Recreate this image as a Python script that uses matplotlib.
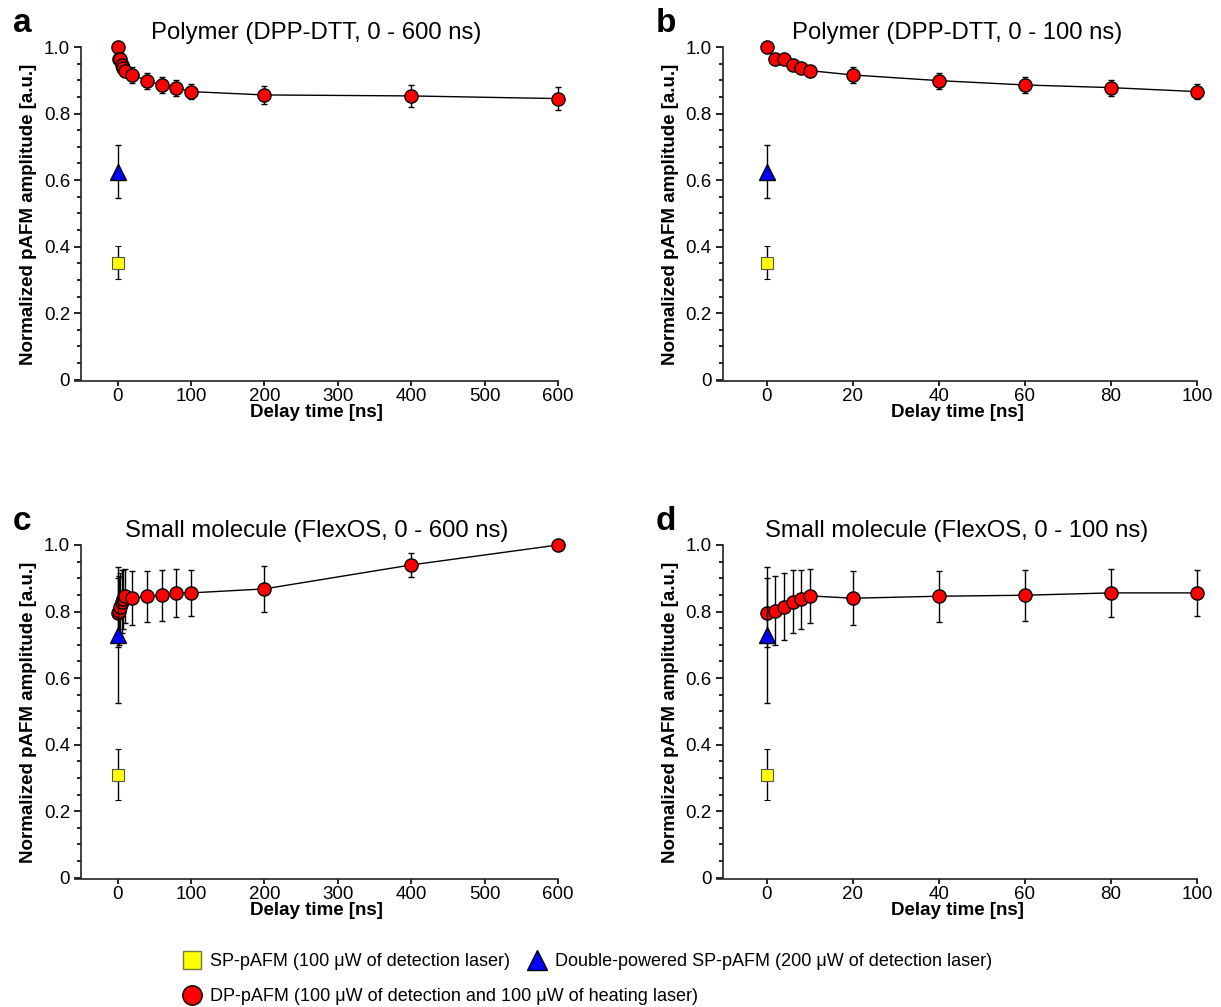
import numpy as np
import matplotlib
matplotlib.use("Agg")
import matplotlib.pyplot as plt
from matplotlib.lines import Line2D
from matplotlib.ticker import MultipleLocator, FuncFormatter

plt.rcParams['font.family'] = ['Liberation Sans', 'DejaVu Sans']

# delay times of the DP-pAFM measurements [ns]
delay = [0, 2, 4, 6, 8, 10, 20, 40, 60, 80, 100, 200, 400, 600]

# polymer (DPP-DTT)
poly_dp = [1.0, 0.965, 0.965, 0.945, 0.937, 0.929, 0.916, 0.899, 0.886, 0.878, 0.866, 0.856, 0.853, 0.845]
poly_dp_err = [0.004, 0.008, 0.008, 0.012, 0.01, 0.01, 0.023, 0.024, 0.024, 0.024, 0.022, 0.027, 0.033, 0.035]
poly_sp, poly_sp_err = 0.352, 0.049
poly_sp2, poly_sp2_err = 0.625, 0.08

# small molecule (FlexOS)
small_dp = [0.797, 0.803, 0.815, 0.830, 0.837, 0.847, 0.840, 0.846, 0.849, 0.856, 0.856, 0.868, 0.940, 1.0]
small_dp_err = [0.105, 0.104, 0.1, 0.094, 0.089, 0.082, 0.082, 0.077, 0.077, 0.072, 0.07, 0.068, 0.035, 0.0]
small_sp, small_sp_err = 0.31, 0.078
small_sp2, small_sp2_err = 0.73, 0.205

panels = [
    ('a', 'Polymer (DPP-DTT, 0 - 600 ns)', poly_dp, poly_dp_err, poly_sp, poly_sp_err, poly_sp2, poly_sp2_err, 600),
    ('b', 'Polymer (DPP-DTT, 0 - 100 ns)', poly_dp, poly_dp_err, poly_sp, poly_sp_err, poly_sp2, poly_sp2_err, 100),
    ('c', 'Small molecule (FlexOS, 0 - 600 ns)', small_dp, small_dp_err, small_sp, small_sp_err, small_sp2, small_sp2_err, 600),
    ('d', 'Small molecule (FlexOS, 0 - 100 ns)', small_dp, small_dp_err, small_sp, small_sp_err, small_sp2, small_sp2_err, 100),
]

fig = plt.figure(figsize=(12.21, 10.07), dpi=100)
rects = [
    [0.0614, 0.6216, 0.3956, 0.3317],
    [0.5872, 0.6216, 0.3931, 0.3317],
    [0.0614, 0.1271, 0.3956, 0.3317],
    [0.5872, 0.1271, 0.3931, 0.3317],
]

for rect, (letter, title, dp, dp_err, sp, sp_err, sp2, sp2_err, xmax) in zip(rects, panels):
    ax = fig.add_axes(rect)
    x = np.array(delay)
    keep = x <= xmax
    xd = x[keep]
    yd = np.array(dp)[keep]
    ed = np.array(dp_err)[keep]

    ax.errorbar([0], [sp], yerr=[sp_err], fmt='s', ms=8, mfc='#ffff00', mec='#555555',
                mew=0.8, ecolor='black', elinewidth=1, capsize=2.5, capthick=1, zorder=3, clip_on=False)
    ax.errorbar(xd, yd, yerr=ed, fmt='o-', ms=9.5, mfc='#ff0000', mec='black', mew=1,
                color='black', lw=1, ecolor='black', elinewidth=1, capsize=2.5, capthick=1,
                zorder=4, clip_on=False)
    ax.errorbar([0], [sp2], yerr=[sp2_err], fmt='^', ms=12, mfc='#0000ff', mec='black',
                mew=1, ecolor='black', elinewidth=1, capsize=2.5, capthick=1, zorder=5, clip_on=False)

    if xmax == 600:
        ax.set_xlim(-58, 600)
        ax.set_xticks(range(0, 601, 100))
        ax.spines['left'].set_position(('axes', 0.013))
    else:
        ax.set_xlim(-11.6, 100)
        ax.set_xticks(range(0, 101, 20))
        ax.spines['left'].set_position(('axes', 0.0125))
    ax.set_ylim(-0.004, 1.0)
    ax.spines['left'].set_bounds(0, 1.0)
    ax.set_yticks([0, 0.2, 0.4, 0.6, 0.8, 1.0])
    ax.yaxis.set_minor_locator(MultipleLocator(0.05))
    ax.yaxis.set_major_formatter(FuncFormatter(lambda v, p: '0' if abs(v) < 1e-9 else f'{v:.1f}'))
    ax.spines['top'].set_visible(False)
    ax.spines['right'].set_visible(False)
    for s in ('left', 'bottom'):
        ax.spines[s].set_linewidth(1.2)
        ax.spines[s].set_color('#222222')
    ax.tick_params(axis='y', which='major', direction='out', length=5, width=1.2,
                   labelsize=13.5, pad=3)
    ax.tick_params(axis='y', which='minor', direction='out', length=3, width=1.2)
    ax.tick_params(axis='x', which='major', direction='out', length=3.5, width=1.2,
                   labelsize=13.5, pad=1.5)

    ax.set_xlabel('Delay time [ns]', fontsize=13.5, fontweight='bold', labelpad=-1)
    ax.set_ylabel('Normalized pAFM amplitude [a.u.]', fontsize=13.5, fontweight='bold', labelpad=5)
    ax.set_title(title, fontsize=17.2, pad=6)
    ax.text(-0.128, 1.118, letter, transform=ax.transAxes, fontsize=24, fontweight='bold',
            va='top', ha='left')

# legend: two rows, not aligned as a grid
h_sp = Line2D([], [], ls='none', marker='s', ms=13.5, mfc='#ffff00', mec='#777744', mew=1)
h_dp = Line2D([], [], ls='none', marker='o', ms=14, mfc='#ff0000', mec='black', mew=1)
h_sp2 = Line2D([], [], ls='none', marker='^', ms=15, mfc='#0000ff', mec='black', mew=1)
leg_kw = dict(frameon=False, handletextpad=0.5, columnspacing=1.0, handlelength=1.0,
              borderaxespad=0, borderpad=0, loc='center left',
              prop={'family': ['Liberation Sans'], 'size': 13})
fig.legend([h_sp, h_sp2],
           ['SP-pAFM (100 μW of detection laser)',
            'Double-powered SP-pAFM (200 μW of detection laser)'],
           ncol=2, bbox_to_anchor=(0.1499, 0.0452), **leg_kw)
fig.legend([h_dp], ['DP-pAFM (100 μW of detection and 100 μW of heating laser)'],
           bbox_to_anchor=(0.1499, 0.0105), **leg_kw)

fig.savefig('out.png', dpi=100)
